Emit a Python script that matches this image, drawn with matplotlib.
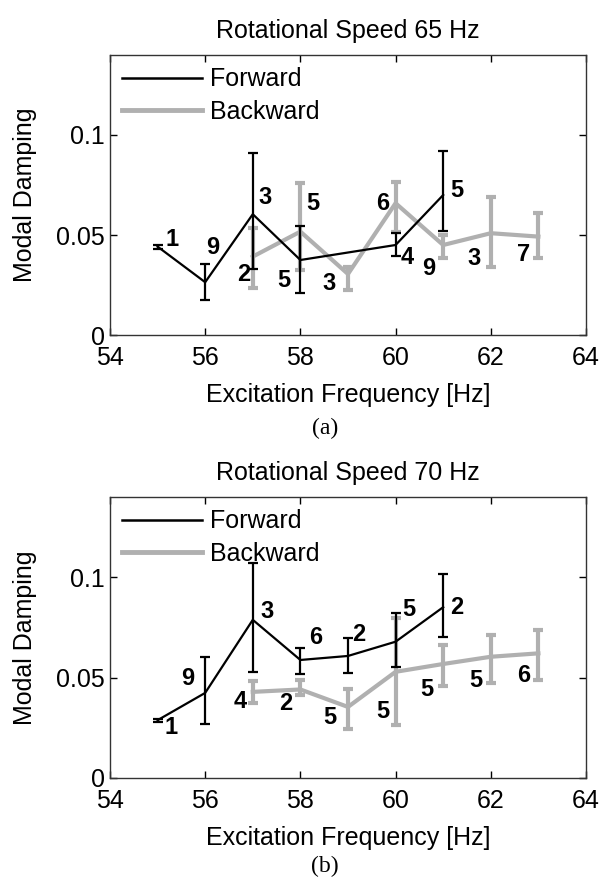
import matplotlib
matplotlib.use("Agg")
import matplotlib.pyplot as plt
import numpy as np

plt.rcParams["font.family"] = ["Liberation Sans", "DejaVu Sans"]

# ---------------------------------------------------------------------------
# Data
# ---------------------------------------------------------------------------
# (a) rotational speed 65 Hz
fw65_f = [55, 56, 57, 58, 60, 61]
fw65_y = [0.0442, 0.0264, 0.0604, 0.0375, 0.0450, 0.0700]
fw65_lo = [0.0432, 0.0175, 0.0329, 0.0209, 0.0395, 0.0520]
fw65_hi = [0.0452, 0.0354, 0.0909, 0.0545, 0.0510, 0.0922]
fw65_n = ["1", "9", "3", "5", "4", "5"]

bw65_f = [57, 58, 59, 60, 61, 62, 63]
bw65_y = [0.0392, 0.0517, 0.0305, 0.0659, 0.0450, 0.0509, 0.0492]
bw65_lo = [0.0235, 0.0325, 0.0225, 0.0517, 0.0385, 0.0342, 0.0385]
bw65_hi = [0.0535, 0.0760, 0.0342, 0.0767, 0.0500, 0.0689, 0.0610]
bw65_n = ["2", "5", "3", "6", "9", "3", "7"]

# (b) rotational speed 70 Hz
fw70_f = [55, 56, 57, 58, 59, 60, 61]
fw70_y = [0.0288, 0.0424, 0.0788, 0.0588, 0.0608, 0.0679, 0.0851]
fw70_lo = [0.0280, 0.0268, 0.0529, 0.0518, 0.0521, 0.0554, 0.0704]
fw70_hi = [0.0296, 0.0601, 0.1071, 0.0649, 0.0696, 0.0824, 0.1018]
fw70_n = ["1", "9", "3", "6", "2", "5", "2"]

bw70_f = [57, 58, 59, 60, 61, 62, 63]
bw70_y = [0.0429, 0.0441, 0.0354, 0.0529, 0.0568, 0.0604, 0.0621]
bw70_lo = [0.0374, 0.0413, 0.0246, 0.0263, 0.0458, 0.0471, 0.0488]
bw70_hi = [0.0483, 0.0488, 0.0441, 0.0796, 0.0663, 0.0713, 0.0738]
bw70_n = ["4", "2", "5", "5", "5", "5", "6"]

# label offsets (pixels) for the sample-count annotations
fw65_off = [(14, 7), (8, 35), (12, 17), (-17, -20), (12, -12), (14, 5)]
bw65_off = [(-9, -18), (12, 28), (-19, -9), (-13, 0), (-14, -23), (-17, -25), (-15, -18)]
fw70_off = [(13, -7), (-17, 14), (14, 8), (15, 22), (11, 21), (13, 32), (14, 0)]
bw70_off = [(-13, -10), (-15, -14), (-18, -11), (-13, -40), (-16, -26), (-15, -24), (-15, -22)]

GRAY = "#b0b0b0"
FS = 18


def draw_series(ax, f, y, lo, hi, names, offs, color, lw, z):
    y = np.array(y)
    yerr = [y - np.array(lo), np.array(hi) - y]
    ax.errorbar(f, y, yerr=yerr, color=color, lw=lw, elinewidth=lw,
                capsize=3.5, capthick=lw, zorder=z)
    for fx, fy, name, (dx, dy) in zip(f, y, names, offs):
        ax.annotate(name, (fx, fy), xytext=(dx, dy), textcoords="offset pixels",
                    ha="center", va="center", fontsize=17, fontweight="bold",
                    zorder=z + 1)


def setup_axes(ax, title):
    ax.set_xlim(54, 64)
    ax.set_ylim(0, 0.14)
    ax.set_xticks([54, 56, 58, 60, 62, 64])
    ax.set_yticks([0, 0.05, 0.1])
    ax.set_yticklabels(["0", "0.05", "0.1"])
    ax.tick_params(direction="in", top=True, right=True, labelsize=FS,
                   length=5, width=1)
    ax.tick_params(axis="x", pad=8)
    for s in ax.spines.values():
        s.set_linewidth(1.0)
        s.set_color("#333333")
    ax.set_title(title, fontsize=FS, pad=12)
    ax.set_xlabel("Excitation Frequency [Hz]", fontsize=FS, labelpad=9)
    ax.set_ylabel("Modal Damping", fontsize=FS, labelpad=14)


fig = plt.figure(figsize=(6.02, 8.77), dpi=100)
ax1 = fig.add_axes([0.1827, 0.618, 0.7907, 0.3193])
ax2 = fig.add_axes([0.1827, 0.1129, 0.7907, 0.3204])

for ax, title, fw, bw in [
    (ax1, "Rotational Speed 65 Hz",
     (fw65_f, fw65_y, fw65_lo, fw65_hi, fw65_n, fw65_off),
     (bw65_f, bw65_y, bw65_lo, bw65_hi, bw65_n, bw65_off)),
    (ax2, "Rotational Speed 70 Hz",
     (fw70_f, fw70_y, fw70_lo, fw70_hi, fw70_n, fw70_off),
     (bw70_f, bw70_y, bw70_lo, bw70_hi, bw70_n, bw70_off)),
]:
    setup_axes(ax, title)
    draw_series(ax, *bw, color=GRAY, lw=3.0, z=2)
    draw_series(ax, *fw, color="black", lw=1.6, z=4)
    h1, = ax.plot([], [], color="black", lw=1.8)
    h2, = ax.plot([], [], color=GRAY, lw=3.5)
    ax.legend([h1, h2], ["Forward", "Backward"], loc="upper left",
              frameon=False, fontsize=FS, handlelength=3.2, handletextpad=0.3,
              labelspacing=0.35, borderaxespad=0.2, borderpad=0.3)

fig.text(325 / 602, 1 - 428 / 877, "(a)", ha="center", va="center",
         fontsize=17, family="Liberation Serif")
fig.text(325 / 602, 1 - 866 / 877, "(b)", ha="center", va="center",
         fontsize=17, family="Liberation Serif")

fig.savefig("out.png", dpi=100)
